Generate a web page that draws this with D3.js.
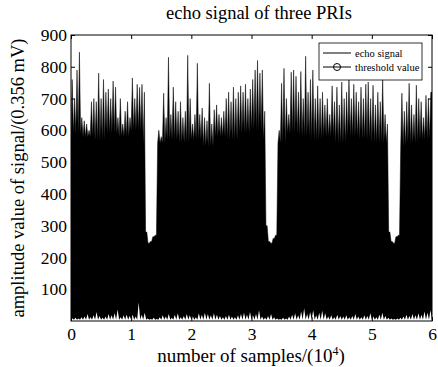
<!DOCTYPE html>
<html>
<head>
<meta charset="utf-8">
<script src="https://cdn.jsdelivr.net/npm/d3@7"></script>
<style>
  body { margin: 0; background: #fff; }
  svg { display: block; font-family: "Liberation Serif", "Times New Roman", serif; }
</style>
</head>
<body>
<div id="chart"></div>
<script>
// upper envelope of the echo signal, one value per 0.04 x 10^4 samples
const peakTop = [
  760, 700, 790, 846, 640, 630, 620, 600, 690, 700,
  690, 780, 700, 760, 720, 730, 700, 755, 736, 640,
  700, 620, 660, 690, 640, 765, 700, 745, 735, 745,
  720, 280, 245, 250, 265, 270, 600, 580, 717, 640,
  830, 650, 736, 690, 660, 690, 640, 660, 836, 700,
  620, 650, 811, 650, 670, 640, 630, 748, 620, 665,
  680, 650, 640, 660, 700, 720, 690, 736, 700, 720,
  740, 720, 745, 700, 730, 760, 790, 820, 780, 790,
  660, 300, 250, 245, 260, 270, 600, 748, 795, 700,
  650, 783, 790, 770, 720, 785, 700, 833, 720, 760,
  790, 700, 740, 700, 720, 680, 700, 650, 740, 690,
  736, 680, 752, 700, 720, 767, 700, 745, 720, 690,
  736, 700, 745, 752, 700, 742, 680, 720, 690, 767,
  650, 620, 280, 250, 245, 265, 270, 717, 660, 690,
  748, 680, 650, 742, 700, 690, 640, 710, 700, 720
];
const peakStep = 0.04;

// level of the solid black part, one value per 0.2 x 10^4 samples
const solidTop = [
  590, 580, 570, 590, 580, 600, 560, 560, 570, 560,
  570, 550, 580, 570, 590, 600, 570, 560, 590, 580,
  570, 580, 560, 580, 570, 560, 560, 550, 560, 570
];
const solidStep = 0.2;

// lower envelope spikes, one value per 0.05 x 10^4 samples
const floorSpikes = [
  8, 10, 8, 12, 14, 22, 12, 18, 28, 16,
  10, 14, 22, 18, 24, 36, 12, 18, 20, 16,
  20, 14, 58, 20, 26, 8, 6, 10, 6, 12,
  18, 14, 22, 10, 20, 24, 12, 16, 22, 18,
  14, 12, 24, 20, 26, 22, 18, 24, 20, 16,
  12, 16, 20, 14, 12, 18, 22, 26, 20, 28,
  18, 22, 34, 14, 10, 16, 22, 12, 8, 6,
  10, 8, 14, 20, 24, 18, 30, 40, 22, 28,
  34, 18, 26, 32, 24, 14, 18, 12, 20, 16,
  14, 18, 12, 16, 22, 14, 12, 18, 16, 24,
  14, 12, 20, 26, 16, 10, 8, 6, 8, 10,
  14, 20, 16, 22, 18, 24, 20, 30, 26, 34
];
const floorStep = 0.05;
const floorBase = 4;

const thresholdValue = 210;
const xTicks = [0, 1, 2, 3, 4, 5, 6];
const yTicks = [100, 200, 300, 400, 500, 600, 700, 800, 900];

const width = 438, height = 367;
const margin = { top: 35, right: 6, bottom: 46, left: 71 };

const svg = d3.select('#chart')
  .append('svg')
  .attr('width', width)
  .attr('height', height);

const x = d3.scaleLinear()
  .domain([0, 6])
  .range([margin.left, width - margin.right]);

const y = d3.scaleLinear()
  .domain([0, 900])
  .range([height - margin.bottom, margin.top]);

svg.append('clipPath')
  .attr('id', 'plot-clip')
  .append('rect')
  .attr('x', x(0))
  .attr('y', y(900))
  .attr('width', x(6) - x(0))
  .attr('height', y(0) - y(900));

const plot = svg.append('g').attr('clip-path', 'url(#plot-clip)');

// threshold line (lies under the signal)
const thresholdPts = xTicks.map(d => ({ s: d, v: thresholdValue }));
plot.append('path')
  .attr('d', d3.line().x(d => x(d.s)).y(d => y(d.v))(thresholdPts))
  .attr('fill', 'none')
  .attr('stroke', '#000')
  .attr('stroke-width', 0.8);

// top envelope: valley at bin start, peak in the middle of the bin
const topPts = [];
peakTop.forEach((p, i) => {
  const s = i * peakStep;
  const solid = solidTop[Math.min(solidTop.length - 1, Math.floor(s / solidStep + 1e-9))];
  topPts.push({ s: s, v: Math.min(p, solid) });
  topPts.push({ s: s + peakStep / 2, v: p });
});
topPts.push({ s: 6, v: peakTop[peakTop.length - 1] });

plot.append('path')
  .attr('d', d3.area()
    .x(d => x(d.s))
    .y0(y(0))
    .y1(d => y(d.v))(topPts))
  .attr('fill', '#000')
  .attr('stroke', '#000')
  .attr('stroke-width', 0.5);

// white spikes where the signal minimum rises off the floor
const floorPts = [];
floorSpikes.forEach((f, i) => {
  const s = i * floorStep;
  floorPts.push({ s: s, v: floorBase });
  floorPts.push({ s: s + floorStep / 2, v: f });
});
floorPts.push({ s: 6, v: floorBase });

plot.append('path')
  .attr('d', d3.area()
    .x(d => x(d.s))
    .y0(y(0))
    .y1(d => y(d.v))(floorPts))
  .attr('fill', '#fff');

// axes with inward ticks on all sides
const tickLen = 4;
svg.append('g')
  .attr('transform', `translate(0,${y(0)})`)
  .call(d3.axisBottom(x).tickValues(xTicks).tickFormat(d3.format('d'))
    .tickSizeInner(-tickLen).tickSizeOuter(0).tickPadding(7));
svg.append('g')
  .attr('transform', `translate(${x(0)},0)`)
  .call(d3.axisLeft(y).tickValues(yTicks).tickFormat(d3.format('d'))
    .tickSizeInner(-tickLen).tickSizeOuter(0).tickPadding(4));
svg.append('g')
  .attr('transform', `translate(0,${y(900)})`)
  .call(d3.axisTop(x).tickValues(xTicks).tickFormat('')
    .tickSizeInner(-tickLen).tickSizeOuter(0));
svg.append('g')
  .attr('transform', `translate(${x(6)},0)`)
  .call(d3.axisRight(y).tickValues(yTicks).tickFormat('')
    .tickSizeInner(-tickLen).tickSizeOuter(0));

svg.selectAll('.domain').remove();
svg.selectAll('.tick line').attr('stroke', '#000').attr('stroke-width', 1);
svg.selectAll('.tick text')
  .attr('fill', '#000')
  .style('font-family', '"Liberation Serif", "Times New Roman", serif')
  .style('font-size', '17.5px');

svg.append('rect')
  .attr('x', x(0))
  .attr('y', y(900))
  .attr('width', x(6) - x(0))
  .attr('height', y(0) - y(900))
  .attr('fill', 'none')
  .attr('stroke', '#000')
  .attr('stroke-width', 1);

// title and axis labels
svg.append('text')
  .attr('x', 259)
  .attr('y', 19)
  .attr('text-anchor', 'middle')
  .style('font-size', '18.5px')
  .text('echo signal of three PRIs');

const xl = svg.append('text')
  .attr('x', 251)
  .attr('y', 362)
  .attr('text-anchor', 'middle')
  .style('font-size', '19px');
xl.append('tspan').text('number of samples/(10');
xl.append('tspan').attr('dy', -7).style('font-size', '12px').text('4');
xl.append('tspan').attr('dy', 7).text(')');

svg.append('text')
  .attr('transform', `translate(24,${(y(0) + y(900)) / 2}) rotate(-90)`)
  .attr('text-anchor', 'middle')
  .style('font-size', '18.5px')
  .text('amplitude value of signal/(0.356 mV)');

// legend
const lg = svg.append('g').attr('transform', 'translate(319,43)');
lg.append('rect')
  .attr('width', 103)
  .attr('height', 37)
  .attr('fill', '#fff')
  .attr('stroke', '#000')
  .attr('stroke-width', 0.8);
lg.append('line')
  .attr('x1', 4).attr('x2', 32).attr('y1', 10).attr('y2', 10)
  .attr('stroke', '#000');
lg.append('line')
  .attr('x1', 4).attr('x2', 32).attr('y1', 24).attr('y2', 24)
  .attr('stroke', '#000');
lg.append('circle')
  .attr('cx', 18).attr('cy', 24).attr('r', 3.5)
  .attr('fill', 'none').attr('stroke', '#000');
lg.append('text')
  .attr('x', 36).attr('y', 13.5)
  .style('font-size', '10.5px')
  .text('echo signal');
lg.append('text')
  .attr('x', 36).attr('y', 27.5)
  .style('font-size', '10.5px')
  .text('threshold value');
</script>
</body>
</html>
